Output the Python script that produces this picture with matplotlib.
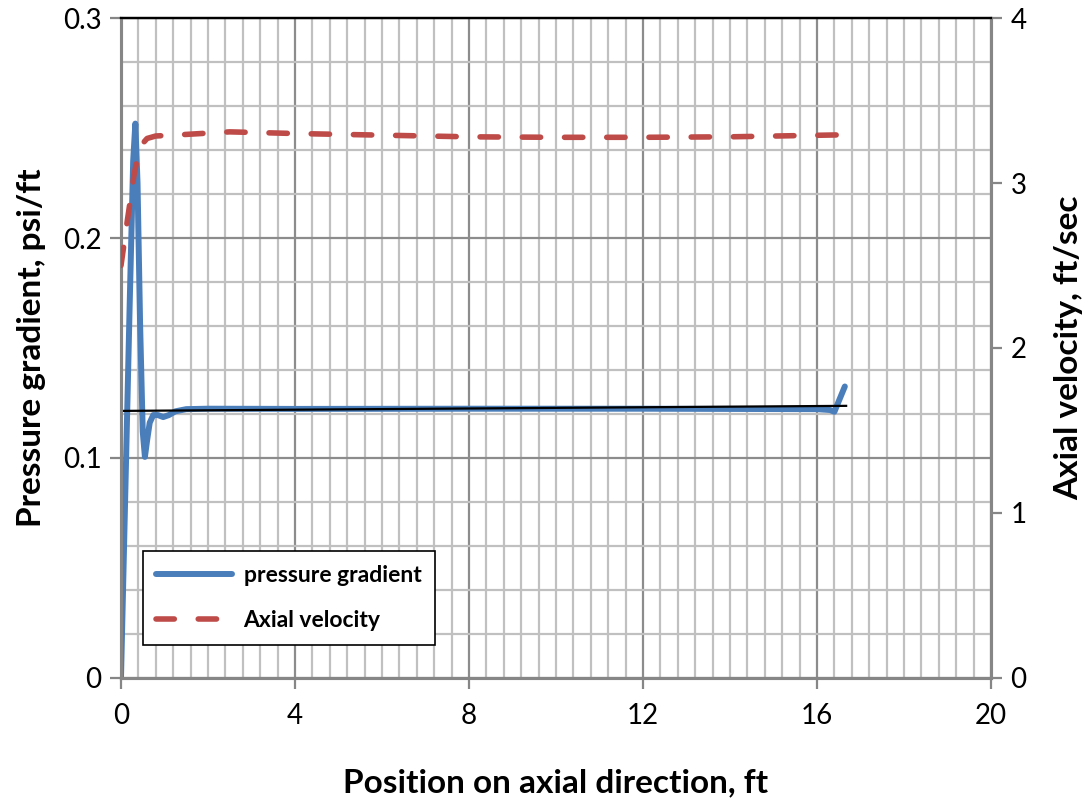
import numpy as np
import matplotlib
matplotlib.use("Agg")
from matplotlib import pyplot as plt
from matplotlib.ticker import MultipleLocator, FormatStrFormatter

plt.rcParams['font.family'] = ['Lato', 'DejaVu Sans']

# pressure gradient (psi/ft) vs position (ft)
x_dp = [0.0, 0.1, 0.2, 0.28, 0.33, 0.38, 0.44, 0.5, 0.55, 0.6, 0.66, 0.74, 0.85, 0.97,
        1.1, 1.25, 1.5, 2.0, 4.0, 8.0, 12.0, 16.0, 16.3, 16.4, 16.64]
dp = [0.0, 0.085, 0.17, 0.235, 0.252, 0.225, 0.16, 0.112, 0.1005, 0.108, 0.116, 0.1195,
      0.1195, 0.1186, 0.1195, 0.1212, 0.1222, 0.1224, 0.1223, 0.1224, 0.1224, 0.1222,
      0.1218, 0.121, 0.1325]

# axial velocity (ft/sec) vs position
x_v = [0.0, 0.15, 0.3, 0.4, 0.5, 0.6, 0.8, 1.2, 2.5, 4.0, 6.0, 8.0, 10.0, 12.0, 14.0, 16.6]
vel = [2.5, 2.78, 3.05, 3.18, 3.24, 3.27, 3.285, 3.29, 3.31, 3.30, 3.29, 3.28, 3.277,
       3.277, 3.28, 3.292]

# straight reference line
x_ref = [0.0, 16.67]
y_ref = [0.1214, 0.1237]

fig = plt.figure(figsize=(10.92, 8.01), dpi=100)
ax = fig.add_axes([0.1108, 0.1536, 0.7967, 0.8239])
ax2 = ax.twinx()

ax.set_xlim(0, 20)
ax.set_ylim(0, 0.3)
ax2.set_ylim(0, 4)

ax.xaxis.set_major_locator(MultipleLocator(4))
ax.xaxis.set_minor_locator(MultipleLocator(0.4))
ax.yaxis.set_major_locator(MultipleLocator(0.1))
ax.yaxis.set_minor_locator(MultipleLocator(0.02))
ax2.yaxis.set_major_locator(MultipleLocator(1))
ax.yaxis.set_major_formatter(FormatStrFormatter('%g'))

ax.grid(which='minor', color='#c0c0c0', lw=1.6)
ax.grid(which='major', color='#8c8c8c', lw=1.6)
ax.set_axisbelow(True)

l1, = ax.plot(x_dp, dp, color='#4a7ebb', lw=4.3, solid_capstyle='round',
              solid_joinstyle='round', label='pressure gradient', zorder=3)
ax.plot(x_ref, y_ref, color='black', lw=1.6, zorder=4)
l2, = ax2.plot(x_v, vel, color='#be4b48', lw=4.0, dashes=(3.3, 4.3),
               dash_capstyle='round', label='Axial velocity', zorder=3)

for a in (ax, ax2):
    for s in ('left', 'right', 'bottom'):
        a.spines[s].set_color('#868686')
        a.spines[s].set_linewidth(2.2)
    a.spines['top'].set_color('black')
    a.spines['top'].set_linewidth(1.6)
    a.tick_params(which='major', length=8, width=1.6, color='#868686',
                  labelsize=20, pad=6)
    a.tick_params(which='minor', length=0)

ax.tick_params(axis='x', pad=10)

ax.set_xlabel('Position on axial direction, ft', fontsize=24, fontweight='bold', labelpad=28)
ax.set_ylabel('Pressure gradient, psi/ft', fontsize=24, fontweight='bold', labelpad=12)
ax2.set_ylabel('Axial velocity, ft/sec', fontsize=24, fontweight='bold', labelpad=20)

leg = ax.legend(handles=[l1, l2], loc='lower left', bbox_to_anchor=(0.025, 0.05),
                prop={'weight': 'bold', 'size': 16.5}, frameon=True,
                fancybox=False, edgecolor='black', framealpha=1, borderpad=0.6,
                labelspacing=1.05, handlelength=3.3, handletextpad=0.5, borderaxespad=0)
leg.get_frame().set_linewidth(1.2)
leg.set_zorder(10)

fig.savefig('out.png', dpi=100)
